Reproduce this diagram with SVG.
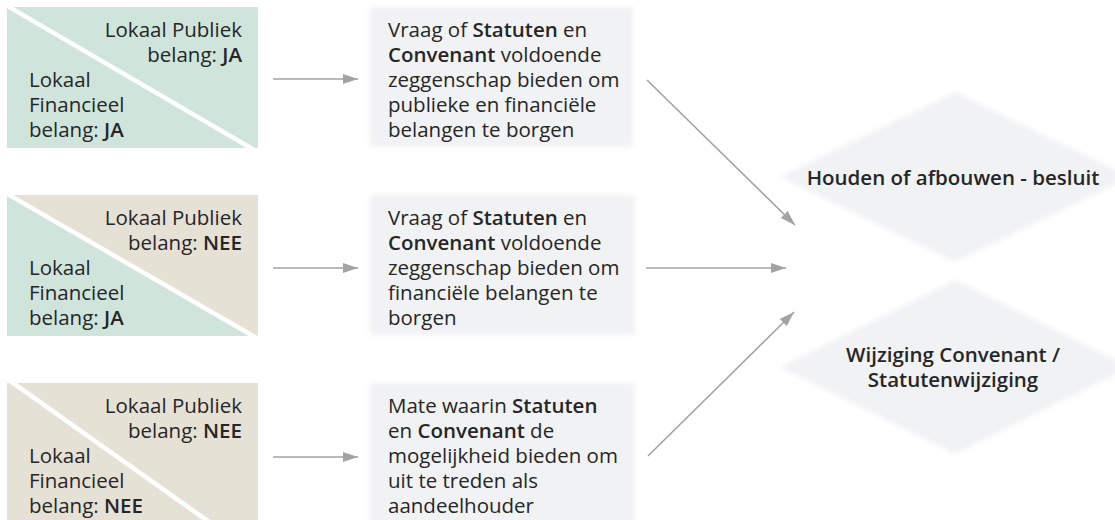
<svg xmlns="http://www.w3.org/2000/svg" width="1115" height="520" viewBox="0 0 1115 520">
<style>
text{font-family:"Open Sans","Noto Sans",sans-serif;font-size:20.5px;fill:#262626}
.b{font-weight:600}
.g{fill:#cfe5dc}
.e{fill:#e6e1d5}
.cut{stroke:#fff;stroke-width:4.5}
.box{fill:#f1f2f4;filter:url(#soft)}
.con{stroke:#a3a3a6;stroke-width:1.6;fill:none;marker-end:url(#ah)}
</style>
<defs>
<filter id="soft" x="-10%" y="-10%" width="120%" height="120%"><feGaussianBlur stdDeviation="2.5"/></filter>
<marker id="ah" markerUnits="userSpaceOnUse" markerWidth="16" markerHeight="12" refX="15" refY="6" orient="auto"><path d="M0,1 L15,6 L0,11 Z" fill="#a3a3a6"/></marker>
<clipPath id="c1"><rect x="7" y="7" width="251" height="141"/></clipPath>
<clipPath id="c2"><rect x="7" y="195" width="251" height="141"/></clipPath>
<clipPath id="c3"><rect x="7" y="383" width="251" height="137"/></clipPath>
</defs>
<rect width="1115" height="520" fill="#fff"/>

<g id="cond1">
<g clip-path="url(#c1)"><rect class="g" x="7" y="7" width="251" height="141"/><polygon class="g" points="7,7 258,7 258,148"/><line class="cut" x1="4" y1="4" x2="256" y2="151"/></g>
<text x="242" y="37" text-anchor="end">Lokaal Publiek</text>
<text x="242" y="62" text-anchor="end">belang: <tspan class="b">JA</tspan></text>
<text x="29" y="87">Lokaal</text>
<text x="29" y="112">Financieel</text>
<text x="29" y="137">belang: <tspan class="b">JA</tspan></text>
</g>

<g id="cond2">
<g clip-path="url(#c2)"><rect class="g" x="7" y="195" width="251" height="141"/><polygon class="e" points="7,192 258,192 258,340"/><line class="cut" x1="4" y1="192" x2="260" y2="340"/></g>
<text x="242" y="225" text-anchor="end">Lokaal Publiek</text>
<text x="242" y="250" text-anchor="end">belang: <tspan class="b">NEE</tspan></text>
<text x="29" y="275">Lokaal</text>
<text x="29" y="300">Financieel</text>
<text x="29" y="325">belang: <tspan class="b">JA</tspan></text>
</g>

<g id="cond3">
<g clip-path="url(#c3)"><rect class="e" x="7" y="383" width="251" height="137"/><line class="cut" x1="6" y1="378" x2="260" y2="558"/></g>
<text x="242" y="413" text-anchor="end">Lokaal Publiek</text>
<text x="242" y="438" text-anchor="end">belang: <tspan class="b">NEE</tspan></text>
<text x="29" y="463">Lokaal</text>
<text x="29" y="488">Financieel</text>
<text x="29" y="513">belang: <tspan class="b">NEE</tspan></text>
</g>

<g id="q1">
<rect class="box" x="370" y="7" width="263" height="140"/>
<text x="388" y="37">Vraag of <tspan class="b">Statuten</tspan> en</text>
<text x="388" y="62"><tspan class="b">Convenant</tspan> voldoende</text>
<text x="388" y="87">zeggenschap bieden om</text>
<text x="388" y="112">publieke en financiële</text>
<text x="388" y="137">belangen te borgen</text>
</g>

<g id="q2">
<rect class="box" x="370" y="195" width="265" height="140"/>
<text x="388" y="225">Vraag of <tspan class="b">Statuten</tspan> en</text>
<text x="388" y="250"><tspan class="b">Convenant</tspan> voldoende</text>
<text x="388" y="275">zeggenschap bieden om</text>
<text x="388" y="300">financiële belangen te</text>
<text x="388" y="325">borgen</text>
</g>

<g id="q3">
<rect class="box" x="370" y="383" width="265" height="145"/>
<text x="388" y="413">Mate waarin <tspan class="b">Statuten</tspan></text>
<text x="388" y="438">en <tspan class="b">Convenant</tspan> de</text>
<text x="388" y="463">mogelijkheid bieden om</text>
<text x="388" y="488">uit te treden als</text>
<text x="388" y="513">aandeelhouder</text>
</g>

<g id="d1">
<polygon class="box" points="780,177 955,92 1130,177 955,262"/>
<text class="b" x="953" y="185" text-anchor="middle">Houden of afbouwen - besluit</text>
</g>

<g id="d2">
<polygon class="box" points="780,367 955,280 1130,367 955,454"/>
<text class="b" x="953" y="362" text-anchor="middle">Wijziging Convenant /</text>
<text class="b" x="953" y="387" text-anchor="middle">Statutenwijziging</text>
</g>

<g id="connectors">
<line class="con" x1="273" y1="79" x2="358" y2="79"/>
<line class="con" x1="273" y1="268" x2="358" y2="268"/>
<line class="con" x1="273" y1="457" x2="358" y2="457"/>
<line class="con" x1="647" y1="80" x2="795" y2="225"/>
<line class="con" x1="646" y1="268" x2="786" y2="268"/>
<line class="con" x1="648" y1="456" x2="794" y2="312"/>
</g>
</svg>
